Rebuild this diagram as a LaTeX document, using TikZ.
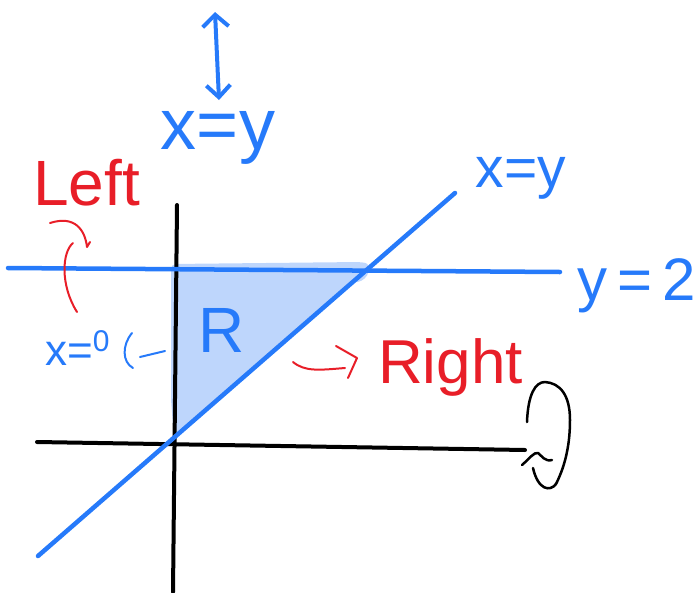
\documentclass[tikz,border=0pt]{standalone}
\usepackage{fontspec}
\setmainfont{Liberation Sans}
\usetikzlibrary{arrows.meta}
\definecolor{inkBlue}{RGB}{38, 122, 250}
\definecolor{inkRed}{RGB}{232, 30, 40}
\definecolor{shadeBlue}{RGB}{190, 214, 252}

\begin{document}
\begin{tikzpicture}[x=1pt, y=-1pt, line cap=round, line join=round,
    axisline/.style={black, line width=4pt},
    blueline/.style={inkBlue, line width=4.5pt},
    redpen/.style={inkRed, line width=2pt},
    bluepen/.style={inkBlue, line width=2pt},
    hand/.style={inner sep=0pt, font=\fontsize{#1}{#1}\selectfont}]
  \useasboundingbox (0,0) rectangle (696,592);
  \coordinate (yaxtop) at (177,205);
  \coordinate (yaxbot) at (173,592);
  \coordinate (xaxleft) at (37,442);
  \coordinate (xaxright) at (525,450);
  \coordinate (hleft) at (8,268);
  \coordinate (hright) at (560,272);
  \coordinate (dlow) at (38,556);
  \coordinate (dhigh) at (455,193);
  \fill[shadeBlue, rounded corners=5pt] (171,264) -- (360,262) .. controls (372,264) and (370,280) .. (352,283) -- (366,270) -- (174,438) -- (171,400) -- cycle;
  \draw[axisline] (yaxtop) -- (yaxbot);
  \draw[axisline] (xaxleft) -- (xaxright);
  \draw[blueline] (hleft) -- (hright);
  \draw[blueline] (dlow) -- (dhigh);
  \node[hand=72, text=inkBlue] (topxy) at (218,138) {x=y};
  \coordinate (arrtop) at (215,12);
  \coordinate (arrbot) at (219,100);
  \draw[blueline, line width=4pt, {Straight Barb[length=12pt,width=26pt]}-{Straight Barb[length=12pt,width=24pt]}] (arrtop) -- (arrbot);
  \node[hand=57, text=inkBlue] (diagxy) at (521,178) {x=y};
  \node[hand=60, text=inkBlue, anchor=base west] (ytwo) at (577,300) {y\,=\,2};
  \node[hand=64, text=inkBlue] (region) at (222,330) {R};
  \node[hand=44, text=inkBlue, anchor=base west] (xzero) at (45,365) {x=\raisebox{14pt}{\fontsize{30}{30}\selectfont 0}};
  \node[hand=64, text=inkRed, anchor=base west] (left) at (33,205) {Left};
  \node[hand=62, text=inkRed, anchor=base west] (right) at (378,383) {Right};
  \coordinate (xzhead) at (132,333);
  \coordinate (xztail) at (165,351);
  \draw[bluepen] (xzhead) .. controls (122,345) and (122,362) .. (133,368);
  \draw[bluepen] (140,357) -- (xztail);
  \draw[redpen] (50,223) .. controls (75,215) and (85,230) .. (87,247) -- (90,242);
  \draw[redpen] (73,243) .. controls (62,252) and (60,285) .. (77,312);
  \coordinate (rtail) at (293,362);
  \draw[redpen] (rtail) .. controls (305,372) and (320,370) .. (345,368);
  \draw[redpen] (336,346) -- (357,358) -- (348,378);
  \draw[black, line width=2.5pt] (527,422) .. controls (528,395) and (535,382) .. (545,382)
       .. controls (560,383) and (570,395) .. (570,420)
       .. controls (570,450) and (563,470) .. (556,484)
       .. controls (550,492) and (538,490) .. (533,468);
  \draw[black, line width=2.5pt] (522,465) .. controls (530,458) and (534,452) .. (538,453)
       .. controls (542,456) and (545,462) .. (552,460);
\end{tikzpicture}
\end{document}
